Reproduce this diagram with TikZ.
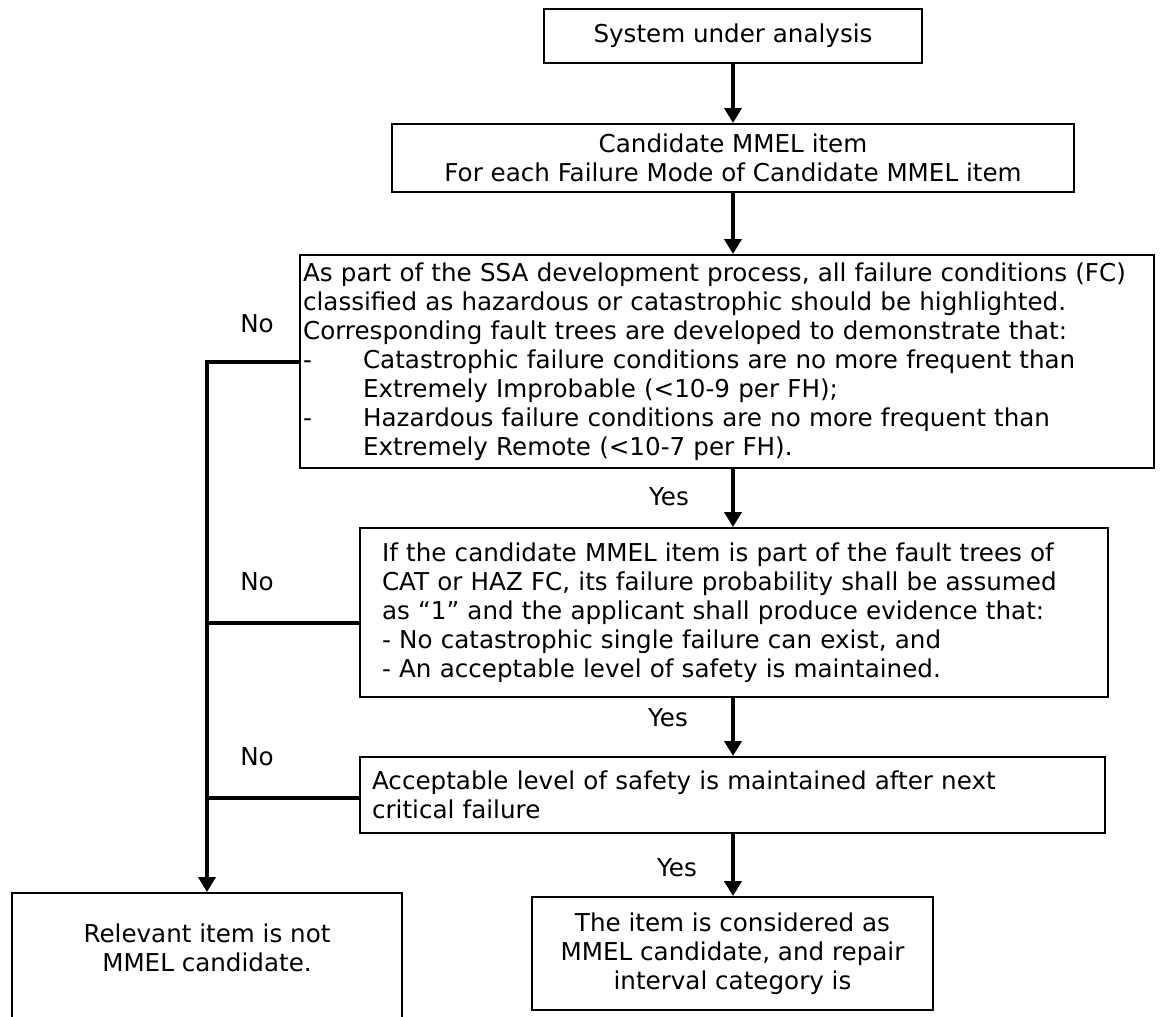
\documentclass[tikz,border=0pt]{standalone}
\usepackage{fontspec}
\setmainfont{DejaVu Sans}
\usetikzlibrary{arrows.meta}

\begin{document}
\begin{tikzpicture}[x=0.02cm,y=-0.02cm,
				every node/.style={font=\fontsize{14pt}{16.5pt}\selectfont},
				box/.style={draw,line width=0.04cm,inner ysep=0pt},
				flow/.style={line width=0.08cm,-{Triangle[width=0.34cm,length=0.3cm]}},
				rail/.style={line width=0.08cm}]
\useasboundingbox (0,0) rectangle (1164,1017);

% main column
\node[box,minimum width=7.58cm,minimum height=1.08cm] (b1) at (733,36) {System under analysis};
\node[box,minimum width=13.64cm,minimum height=1.36cm,align=center] (b2) at (733,158)
	{Candidate MMEL item\\For each Failure Mode of Candidate MMEL item};
\node[box,minimum width=17.08cm,minimum height=4.26cm,inner xsep=0.06cm,text width=16.96cm,align=left] (b3) at (727,361.5)
	{As part of the SSA development process, all failure conditions (FC)\\
	classified as hazardous or catastrophic should be highlighted.\\
	Corresponding fault trees are developed to demonstrate that:\\
	\makebox[1.2cm][l]{-}Catastrophic failure conditions are no more frequent than\\
	\hspace*{1.2cm}Extremely Improbable (<10-9 per FH);\\
	\makebox[1.2cm][l]{-}Hazardous failure conditions are no more frequent than\\
	\hspace*{1.2cm}Extremely Remote (<10-7 per FH).};
\node[box,minimum width=14.96cm,minimum height=3.38cm,inner xsep=0.44cm,text width=14.08cm,align=left] (b4) at (734,612.5)
	{If the candidate MMEL item is part of the fault trees of\\
	CAT or HAZ FC, its failure probability shall be assumed\\
	as “1” and the applicant shall produce evidence that:\\
	- No catastrophic single failure can exist, and\\
	- An acceptable level of safety is maintained.};
\node[box,minimum width=14.9cm,minimum height=1.52cm,inner xsep=0.24cm,text width=14.42cm,align=left] (b5) at (732.5,795)
	{Acceptable level of safety is maintained after next\\critical failure};
\node[box,minimum width=8.02cm,minimum height=2.26cm,align=center] (mmel) at (732.5,953.5)
	{The item is considered as\\MMEL candidate, and repair\\interval category is};
\node[box,minimum width=7.8cm,minimum height=2.74cm,
	label={[align=center,yshift=0.27cm]center:Relevant item is not\\MMEL candidate.}] (notmmel) at (207,961.5) {};

% yes branches, all on one vertical
\draw[flow] (b1) -- (b2);
\draw[flow] (b2.south -| b1) -- (b3.north -| b1);
\draw[flow] (b3.south -| b1) -- (b4.north -| b1);
\draw[flow] (b4.south -| b1) -- (b5.north -| b1);
\draw[flow] (b5.south -| b1) -- (mmel.north -| b1);
\node (yes1) at (669,497) {Yes};
\node (yes2) at (668,718) {Yes};
\node (yes3) at (677,868) {Yes};

% no branches
\draw[flow] (b3.west) -| (notmmel.north);
\draw[rail] ([yshift=-0.21cm]b4.west) -- ([yshift=-0.21cm]b4.west -| notmmel.north);
\draw[rail] ([yshift=-0.06cm]b5.west) -- ([yshift=-0.06cm]b5.west -| notmmel.north);
\node (no1) at (257,324) {No};
\node (no2) at (257,582) {No};
\node (no3) at (257,757) {No};
\end{tikzpicture}
\end{document}
